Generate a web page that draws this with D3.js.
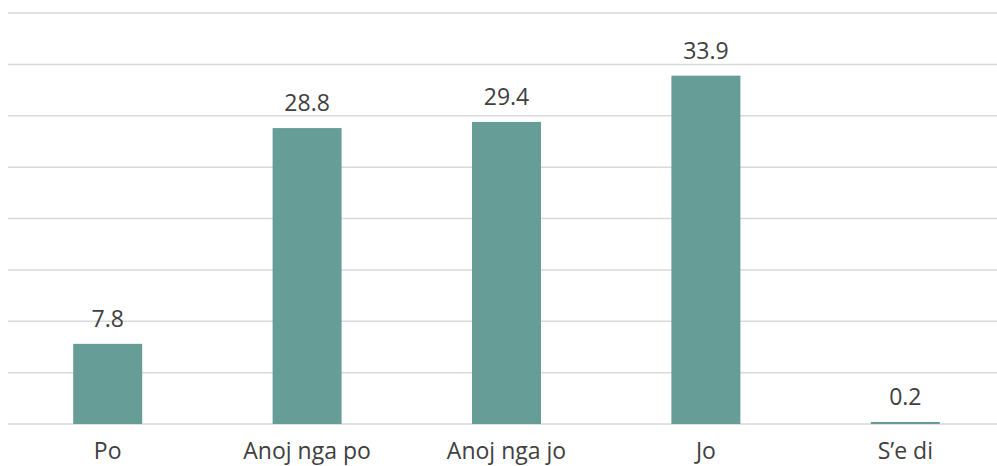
<!DOCTYPE html>
<html><head><meta charset="utf-8">
<script src="https://cdn.jsdelivr.net/npm/d3@7"></script>
<style>html,body{margin:0;padding:0;background:#fff;overflow:hidden}</style>
</head><body>
<svg id="chart" width="997" height="466"></svg>
<script>
const categories = ["Po", "Anoj nga po", "Anoj nga jo", "Jo", "S\u2019e di"];
const values = [7.8, 28.8, 29.4, 33.9, 0.2];
const yTicks = [0, 5, 10, 15, 20, 25, 30, 35, 40];

const svg = d3.select("#chart");
const font = "'Century Gothic', 'Open Sans', sans-serif";
const x = d3.scaleBand().domain(categories).range([8, 1005]).paddingInner(0.654).paddingOuter(0.327);
const y = d3.scaleLinear().domain([0, 40]).range([424, 13]);

svg.append("g").selectAll("line").data(yTicks).join("line")
  .attr("x1", 8).attr("x2", 1005)
  .attr("y1", d => y(d)).attr("y2", d => y(d))
  .attr("stroke", "#d9d9d9").attr("stroke-width", 1.5);

svg.append("g").selectAll("rect").data(values).join("rect")
  .attr("x", (d, i) => x(categories[i]))
  .attr("width", x.bandwidth())
  .attr("y", d => y(d))
  .attr("height", d => y(0) - y(d))
  .attr("fill", "#669d96");

svg.append("g").selectAll("text").data(values).join("text")
  .attr("x", (d, i) => x(categories[i]) + x.bandwidth() / 2)
  .attr("y", d => y(d) - 17)
  .attr("text-anchor", "middle")
  .attr("font-family", font).attr("font-size", 23).attr("fill", "#404040")
  .text(d => d.toFixed(1));

svg.append("g").selectAll("text").data(categories).join("text")
  .attr("x", d => x(d) + x.bandwidth() / 2)
  .attr("y", 459)
  .attr("text-anchor", "middle")
  .attr("font-family", font).attr("font-size", 23).attr("fill", "#404040")
  .text(d => d);
</script>
</body></html>
